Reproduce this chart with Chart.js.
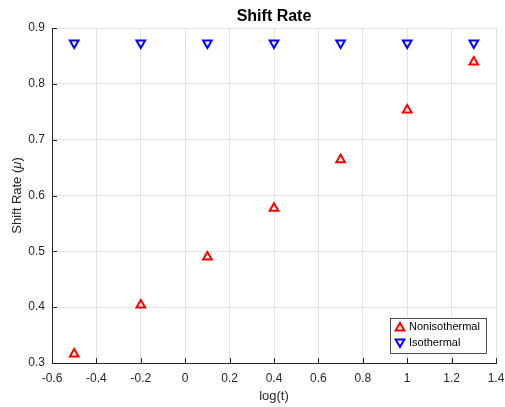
<!DOCTYPE html>
<html>
<head>
<meta charset="utf-8">
<script src="https://cdn.jsdelivr.net/npm/chart.js@4/dist/chart.umd.min.js"></script>
<style>
  html, body { margin: 0; padding: 0; background: #fff; }
  #wrap { width: 505px; height: 407px; }
</style>
</head>
<body>
<div id="wrap"><canvas id="grafico" width="505" height="407"></canvas></div>
<script>
const logT = [-0.5, -0.2, 0.1, 0.4, 0.7, 1.0, 1.3];
const nonisothermal = [0.316, 0.404, 0.490, 0.577, 0.664, 0.753, 0.839];
const isothermal = [0.873, 0.873, 0.873, 0.873, 0.873, 0.873, 0.873];
const xTicks = [-0.6, -0.4, -0.2, 0, 0.2, 0.4, 0.6, 0.8, 1, 1.2, 1.4];
const yTicks = [0.3, 0.4, 0.5, 0.6, 0.7, 0.8, 0.9];

const FONT = "'Liberation Sans', Arial, Helvetica, sans-serif";
const axisColor = "#262626";

// MATLAB-style inward ticks, y label with italic mu, and legend inside the axes
const extras = {
  id: "extras",
  afterDraw(chart) {
    const ctx = chart.ctx;
    const { left, right, top, bottom } = chart.chartArea;
    const xs = chart.scales.x, ys = chart.scales.y;
    ctx.save();
    ctx.strokeStyle = axisColor;
    ctx.lineWidth = 1;
    ctx.beginPath();
    xTicks.forEach(v => {
      const px = Math.round(xs.getPixelForValue(v)) + 0.5;
      ctx.moveTo(px, bottom);
      ctx.lineTo(px, bottom - 5);
    });
    yTicks.forEach(v => {
      const py = Math.round(ys.getPixelForValue(v)) + 0.5;
      ctx.moveTo(left, py);
      ctx.lineTo(left + 5, py);
    });
    ctx.stroke();

    // y axis title
    ctx.fillStyle = axisColor;
    ctx.translate(17, (top + bottom) / 2);
    ctx.rotate(-Math.PI / 2);
    ctx.textBaseline = "middle";
    const parts = [
      { t: "Shift Rate (", f: "13px " + FONT },
      { t: "\u03bc", f: "italic 13px " + FONT },
      { t: ")", f: "13px " + FONT }
    ];
    let total = 0;
    parts.forEach(p => { ctx.font = p.f; p.w = ctx.measureText(p.t).width; total += p.w; });
    let x0 = -total / 2;
    ctx.textAlign = "left";
    parts.forEach(p => { ctx.font = p.f; ctx.fillText(p.t, x0, 0); x0 += p.w; });
    ctx.restore();

    // legend
    ctx.save();
    const bx = 390.5, by = 318.5, bw = 96, bh = 35;
    ctx.fillStyle = "#fff";
    ctx.fillRect(bx, by, bw, bh);
    ctx.strokeStyle = axisColor;
    ctx.lineWidth = 0.8;
    ctx.strokeRect(bx, by, bw, bh);
    chart.data.datasets.forEach((ds, i) => {
      const cy = 327 + i * 16;
      ctx.strokeStyle = ds.borderColor;
      ctx.fillStyle = "rgba(0,0,0,0)";
      ctx.lineWidth = ds.borderWidth;
      Chart.helpers.drawPoint(ctx, {
        pointStyle: "triangle",
        rotation: ds.rotation || 0,
        radius: ds.pointRadius,
        borderWidth: ds.borderWidth
      }, 400, cy + (ds.rotation ? -1 : 1));
      ctx.fillStyle = "#000";
      ctx.font = "11px " + FONT;
      ctx.textBaseline = "middle";
      ctx.textAlign = "left";
      ctx.fillText(ds.label, 409, cy);
    });
    ctx.restore();
  }
};

new Chart(document.getElementById("grafico").getContext("2d"), {
  type: "scatter",
  data: {
    datasets: [
      {
        label: "Nonisothermal",
        data: logT.map((x, i) => ({ x: x, y: nonisothermal[i] })),
        pointStyle: "triangle",
        pointRadius: 5,
        borderColor: "#ff0000",
        backgroundColor: "rgba(0,0,0,0)",
        borderWidth: 2
      },
      {
        label: "Isothermal",
        data: logT.map((x, i) => ({ x: x, y: isothermal[i] })),
        pointStyle: "triangle",
        rotation: 180,
        pointRotation: 180,
        pointRadius: 5,
        borderColor: "#0000ff",
        backgroundColor: "rgba(0,0,0,0)",
        borderWidth: 2
      }
    ]
  },
  options: {
    responsive: false,
    animation: false,
    layout: { padding: { left: 0, right: 0, top: 0, bottom: 0 } },
    plugins: {
      legend: { display: false },
      tooltip: { enabled: false },
      title: {
        display: true,
        fullSize: false,
        text: "Shift Rate",
        color: "#000",
        font: { family: FONT, size: 16, weight: "bold", lineHeight: 1.2 },
        padding: { top: 7, bottom: 1.8 }
      }
    },
    scales: {
      x: {
        type: "linear",
        min: -0.6,
        max: 1.4,
        afterBuildTicks: s => { s.ticks = xTicks.map(v => ({ value: v })); },
        afterFit: s => { s.height = 44; s.paddingLeft = 0; s.paddingRight = 9; },
        ticks: {
          color: axisColor,
          padding: 8,
          maxRotation: 0,
          font: { family: FONT, size: 12 },
          callback: v => String(Number(v.toFixed(1)))
        },
        grid: { color: "#e3e3e3", drawTicks: false },
        border: { color: axisColor, width: 1 },
        title: {
          display: true,
          text: "log(t)",
          color: axisColor,
          font: { family: FONT, size: 13 },
          padding: { top: 0, bottom: 3 }
        }
      },
      y: {
        min: 0.3,
        max: 0.9,
        afterBuildTicks: s => { s.ticks = yTicks.map(v => ({ value: v })); },
        afterFit: s => { s.width = 52; s.paddingTop = 0; s.paddingBottom = 0; },
        ticks: {
          color: axisColor,
          padding: 7,
          font: { family: FONT, size: 12 },
          callback: v => String(Number(v.toFixed(1)))
        },
        grid: { color: "#e3e3e3", drawTicks: false },
        border: { color: axisColor, width: 1 }
      }
    }
  },
  plugins: [extras]
});
</script>
</body>
</html>
